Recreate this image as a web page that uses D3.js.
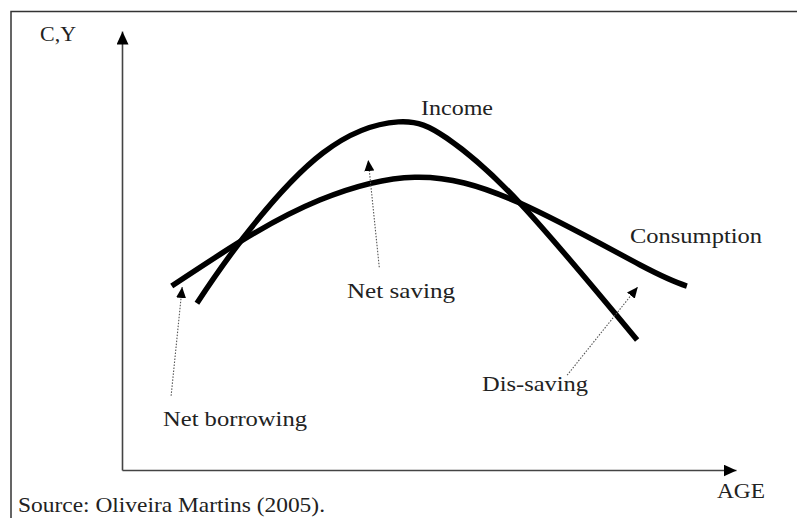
<!DOCTYPE html>
<html>
<head>
<meta charset="utf-8">
<script src="https://cdn.jsdelivr.net/npm/d3@7"></script>
<style>
  body { margin: 0; background: #fff; }
  text { font-family: "Liberation Serif", "Times New Roman", serif; fill: #222; }
</style>
</head>
<body>
<div class="lc-chart"></div>
<script>
// life-cycle income / consumption sketch (values in arbitrary units, age 0-100)
var incomeAge   = [12.2, 19.7, 32.7, 45.0, 52.9, 64.8, 83.9];
var incomeValue = [38.0, 52.8, 72.2, 79.3, 75.6, 60.8, 29.6];

var consAge   = [8.1, 19.7, 32.2, 47.7, 64.8, 84.4, 92.0];
var consValue = [41.9, 52.4, 61.5, 66.7, 60.8, 46.7, 41.9];

// annotation arrows: from (age, value) to (age, value)
var arrowNames = ["Net borrowing", "Net saving", "Dis-saving"];
var arrowFrom  = [[8.0, 16.9], [41.9, 46.2], [72.5, 21.6]];
var arrowTo    = [[9.8, 41.7], [40.1, 70.6], [84.0, 41.7]];

var width = 797,
    height = 518,
    margin = {top: 31, right: 61, bottom: 48, left: 122};

var xScale = d3.scaleLinear().domain([0, 100]).range([margin.left, width - margin.right]),
    yScale = d3.scaleLinear().domain([0, 100]).range([height - margin.bottom, margin.top]);

var svg = d3.select(".lc-chart").append("svg")
    .attr("width", width)
    .attr("height", height);

var defs = svg.append("defs");
defs.append("marker")
    .attr("id", "axis-head")
    .attr("markerUnits", "userSpaceOnUse")
    .attr("markerWidth", 13).attr("markerHeight", 12)
    .attr("refX", 13).attr("refY", 6)
    .attr("orient", "auto")
  .append("path")
    .attr("d", "M0,0L13,6L0,12Z")
    .attr("fill", "#000");
defs.append("marker")
    .attr("id", "note-head")
    .attr("markerUnits", "userSpaceOnUse")
    .attr("markerWidth", 11).attr("markerHeight", 10)
    .attr("refX", 11).attr("refY", 5)
    .attr("orient", "auto")
  .append("path")
    .attr("d", "M0,0L11,5L0,10Z")
    .attr("fill", "#000");

// frame (top and left only)
svg.append("path")
    .attr("d", "M11,518V11.5H797")
    .attr("fill", "none")
    .attr("stroke", "#333")
    .attr("stroke-width", 1.5);

// axes without ticks, arrow at the end
var xAxis = d3.axisBottom(xScale).ticks(0).tickSizeOuter(0),
    yAxis = d3.axisLeft(yScale).ticks(0).tickSizeOuter(0);

svg.append("g")
    .attr("transform", "translate(0," + yScale(0) + ")")
    .call(xAxis)
  .select(".domain")
    .attr("stroke", "#444")
    .attr("stroke-width", 1.6)
    .attr("marker-end", "url(#axis-head)");

svg.append("g")
    .attr("transform", "translate(" + xScale(0) + ",0)")
    .call(yAxis)
  .select(".domain")
    .attr("stroke", "#444")
    .attr("stroke-width", 1.6)
    .attr("marker-end", "url(#axis-head)");

// curves
var line = d3.line()
    .x(function(d) { return xScale(d[0]); })
    .y(function(d) { return yScale(d[1]); })
    .curve(d3.curveNatural);

var series = [
    d3.zip(consAge, consValue),
    d3.zip(incomeAge, incomeValue)
];

svg.selectAll(".curve")
    .data(series)
  .enter().append("path")
    .attr("class", "curve")
    .attr("d", line)
    .attr("fill", "none")
    .attr("stroke", "#000")
    .attr("stroke-width", 5.5)
    .attr("stroke-linecap", "butt");

// dotted annotation arrows
svg.selectAll(".note")
    .data(arrowNames)
  .enter().append("line")
    .attr("class", "note")
    .attr("x1", function(d, i) { return xScale(arrowFrom[i][0]); })
    .attr("y1", function(d, i) { return yScale(arrowFrom[i][1]); })
    .attr("x2", function(d, i) { return xScale(arrowTo[i][0]); })
    .attr("y2", function(d, i) { return yScale(arrowTo[i][1]); })
    .attr("stroke", "#555")
    .attr("stroke-width", 1.1)
    .attr("stroke-dasharray", "1.5,1.5")
    .attr("marker-end", "url(#note-head)");

// labels: text, x, baseline y, width, size
var labels = [
    ["C,Y", 40, 41, 36, 22],
    ["Income", 421, 115, 72, 22],
    ["Consumption", 630, 243, 132, 22],
    ["Net saving", 347, 298, 108, 22],
    ["Dis-saving", 482, 391, 106, 22],
    ["Net borrowing", 163, 426, 144, 22],
    ["AGE", 717, 498, 48, 22],
    ["Source: Oliveira Martins (2005).", 18, 512, 307, 21]
];

svg.selectAll(".label")
    .data(labels)
  .enter().append("text")
    .attr("class", "label")
    .attr("x", function(d) { return d[1]; })
    .attr("y", function(d) { return d[2]; })
    .attr("textLength", function(d) { return d[3]; })
    .attr("lengthAdjust", "spacingAndGlyphs")
    .style("font-size", function(d) { return d[4] + "px"; })
    .text(function(d) { return d[0]; });
</script>
</body>
</html>
